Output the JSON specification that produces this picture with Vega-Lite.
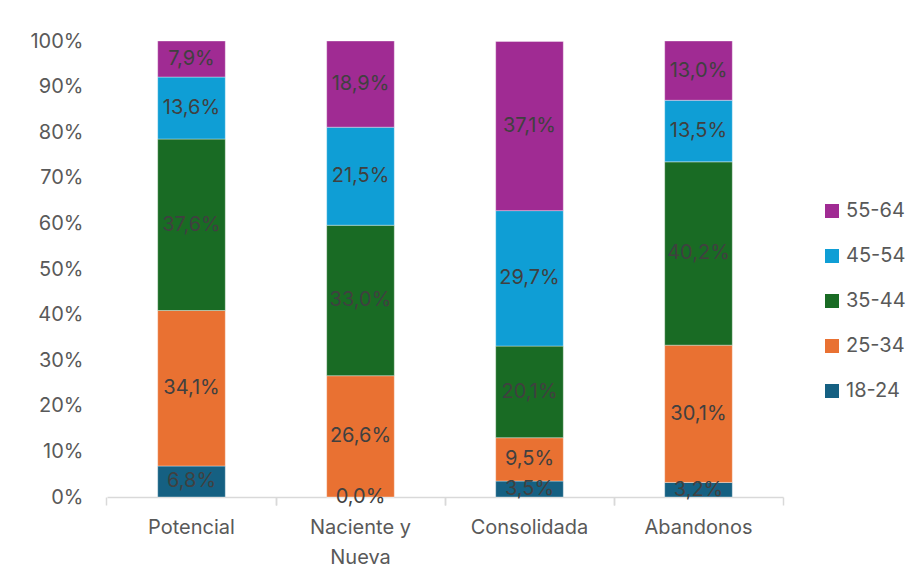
{
  "$schema": "https://vega.github.io/schema/vega-lite/v6.json",
  "width": 676,
  "height": 456,
  "autosize": "none",
  "padding": {"left": 107, "top": 41, "right": 132, "bottom": 85},
  "background": "white",
  "config": {
    "locale": {"number": {"decimal": ",", "thousands": ".", "grouping": [3], "currency": ["", " €"]}},
    "view": {"stroke": null},
    "font": "Inter",
    "text": {"font": "Inter"}
  },
  "data": {
    "values": [
      {"grupo": "Potencial", "edad": "18-24", "orden": 1, "pct": 0.068},
      {"grupo": "Potencial", "edad": "25-34", "orden": 2, "pct": 0.341},
      {"grupo": "Potencial", "edad": "35-44", "orden": 3, "pct": 0.376},
      {"grupo": "Potencial", "edad": "45-54", "orden": 4, "pct": 0.136},
      {"grupo": "Potencial", "edad": "55-64", "orden": 5, "pct": 0.079},
      {"grupo": "Naciente y Nueva", "edad": "18-24", "orden": 1, "pct": 0.0},
      {"grupo": "Naciente y Nueva", "edad": "25-34", "orden": 2, "pct": 0.266},
      {"grupo": "Naciente y Nueva", "edad": "35-44", "orden": 3, "pct": 0.330},
      {"grupo": "Naciente y Nueva", "edad": "45-54", "orden": 4, "pct": 0.215},
      {"grupo": "Naciente y Nueva", "edad": "55-64", "orden": 5, "pct": 0.189},
      {"grupo": "Consolidada", "edad": "18-24", "orden": 1, "pct": 0.035},
      {"grupo": "Consolidada", "edad": "25-34", "orden": 2, "pct": 0.095},
      {"grupo": "Consolidada", "edad": "35-44", "orden": 3, "pct": 0.201},
      {"grupo": "Consolidada", "edad": "45-54", "orden": 4, "pct": 0.297},
      {"grupo": "Consolidada", "edad": "55-64", "orden": 5, "pct": 0.371},
      {"grupo": "Abandonos", "edad": "18-24", "orden": 1, "pct": 0.032},
      {"grupo": "Abandonos", "edad": "25-34", "orden": 2, "pct": 0.301},
      {"grupo": "Abandonos", "edad": "35-44", "orden": 3, "pct": 0.402},
      {"grupo": "Abandonos", "edad": "45-54", "orden": 4, "pct": 0.135},
      {"grupo": "Abandonos", "edad": "55-64", "orden": 5, "pct": 0.130}
    ]
  },
  "resolve": {"axis": {"x": "independent"}},
  "layer": [
    {
      "mark": {"type": "bar", "stroke": "white", "strokeWidth": 0.6, "strokeOpacity": 0.6},
      "encoding": {
        "x": {
          "field": "grupo", "type": "nominal",
          "sort": ["Potencial", "Naciente y Nueva", "Consolidada", "Abandonos"],
          "scale": {"paddingInner": 0.6, "paddingOuter": 0.3},
          "axis": {
            "title": null, "orient": "bottom", "labelAngle": 0, "labelFont": "Inter", "labelFontSize": 20,
            "labelColor": "#595959", "labelPadding": 12, "labelLineHeight": 30,
            "labelExpr": "datum.value == 'Naciente y Nueva' ? ['Naciente y', 'Nueva'] : datum.value",
            "domainColor": "#D9D9D9", "domainWidth": 1.5, "tickColor": "#D9D9D9", "tickWidth": 1.5,
            "tickSize": 8, "bandPosition": -0.75
          }
        },
        "y": {
          "field": "pct", "type": "quantitative", "stack": "zero",
          "scale": {"domain": [0, 1], "nice": false},
          "axis": {
            "title": null, "format": ".0%", "values": [0, 0.1, 0.2, 0.3, 0.4, 0.5, 0.6, 0.7, 0.8, 0.9, 1],
            "grid": false, "domain": false, "ticks": false, "labelPadding": 24,
            "labelFont": "Inter", "labelFontSize": 20, "labelColor": "#595959"
          }
        },
        "order": {"field": "orden", "type": "quantitative", "sort": "ascending"},
        "color": {
          "field": "edad", "type": "nominal",
          "scale": {
            "domain": ["55-64", "45-54", "35-44", "25-34", "18-24"],
            "range": ["#A02B93", "#0F9ED5", "#196B24", "#E97132", "#156082"]
          },
          "legend": {
            "title": null, "orient": "none", "legendX": 715, "legendY": 160,
            "symbolType": "square", "symbolSize": 196, "symbolStrokeWidth": 0,
            "labelFont": "Inter", "labelFontSize": 20, "labelColor": "#595959",
            "labelOffset": 4, "rowPadding": 25, "padding": 0
          }
        }
      }
    },
    {
      "transform": [
        {"stack": "pct", "groupby": ["grupo"], "sort": [{"field": "orden"}], "as": ["y0", "y1"]},
        {"fold": ["y0", "y1"], "as": ["k", "v"]},
        {"aggregate": [{"op": "mean", "field": "v", "as": "mid"}], "groupby": ["grupo", "edad", "pct"]}
      ],
      "mark": {"type": "text", "font": "Inter", "fontSize": 20, "color": "#404040", "baseline": "middle", "align": "center"},
      "encoding": {
        "x": {
          "field": "grupo", "type": "nominal",
          "sort": ["Potencial", "Naciente y Nueva", "Consolidada", "Abandonos"],
          "axis": {
            "title": null, "orient": "bottom", "labels": false, "domain": false,
            "tickColor": "#D9D9D9", "tickWidth": 1.5, "tickSize": 8, "bandPosition": 1.75
          }
        },
        "y": {"field": "mid", "type": "quantitative", "stack": null},
        "text": {"field": "pct", "type": "quantitative", "format": ".1%"}
      }
    }
  ]
}
